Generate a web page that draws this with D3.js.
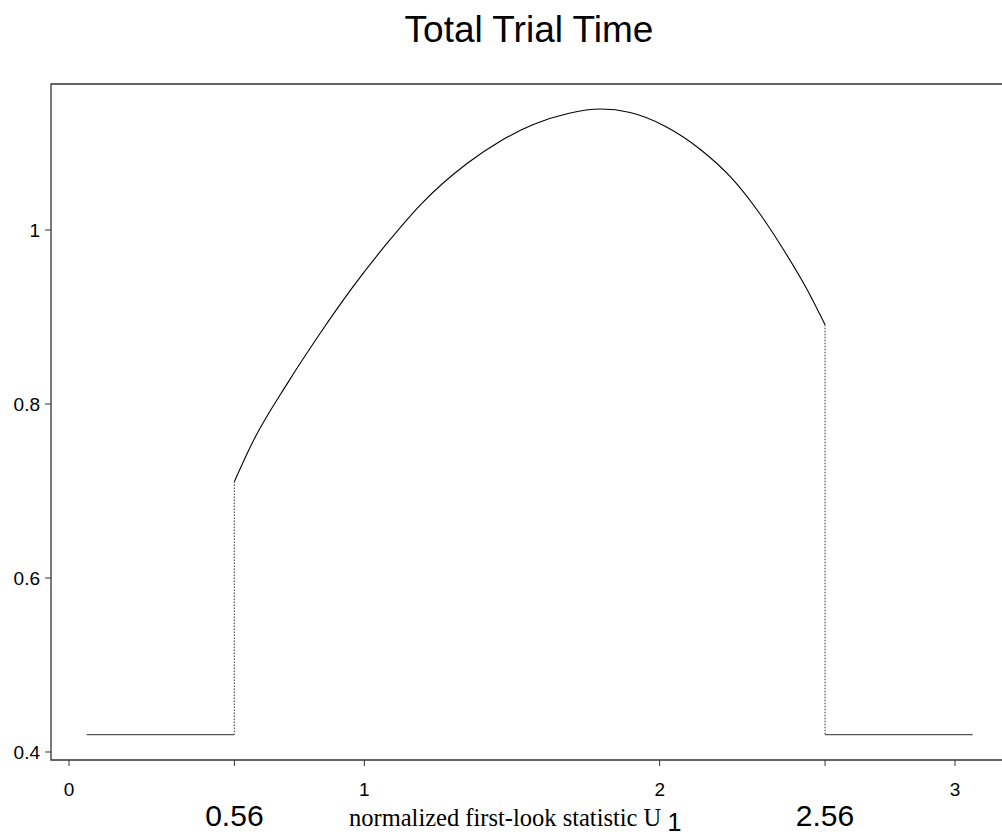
<!DOCTYPE html>
<html>
<head>
<meta charset="utf-8">
<script src="https://cdn.jsdelivr.net/npm/d3@7"></script>
<style>
   html, body { margin: 0; padding: 0; background: #fff; }
   svg text { font-family: "Liberation Sans", Arial, sans-serif; fill: #000; }
</style>
</head>
<body>
<div id="chart"></div>
<script>
"use strict";

// statistic U1 and total trial time
const curveU = [0.56, 0.62, 0.74, 0.85, 0.96, 1.08, 1.19, 1.35, 1.46, 1.57,
   1.69, 1.80, 1.90, 2.02, 2.14, 2.24, 2.33, 2.42, 2.50, 2.56];
const curveTime = [0.711, 0.755, 0.824, 0.881, 0.934, 0.986, 1.029, 1.077, 1.102, 1.121,
   1.134, 1.139, 1.135, 1.119, 1.092, 1.061, 1.023, 0.977, 0.931, 0.891];

// flat pieces outside the continuation region
const flatLeft = [[0.06, 0.42], [0.56, 0.42]];
const flatRight = [[2.56, 0.42], [3.06, 0.42]];

// boundaries of the region
const bounds = [0.56, 2.56];
const boundLabels = ["0.56", "2.56"];

const xTicks = [0, 1, 2, 3];
const yTicks = [0.4, 0.6, 0.8, 1];

const titleText = "Total Trial Time";
const xLabelText = "normalized first-look statistic U";
const xLabelSub = "1";

(function () {
   const width = 1002;
   const height = 836;
   const frameLeft = 51;
   const frameTop = 84;
   const frameBottom = 760;

   const x = d3.scaleLinear().domain([0, 3]).range([69, 955]);
   const y = d3.scaleLinear().domain([0.4, 1]).range([752, 230]);

   const svg = d3.select("#chart").append("svg")
      .attr("width", width)
      .attr("height", height);

   const curve = curveU.map((u, i) => [u, curveTime[i]]);

   // frame (right edge lies outside the picture)
   svg.append("path")
      .attr("d", `M${width},${frameTop}H${frameLeft}V${frameBottom}H${width}`)
      .attr("fill", "none")
      .attr("stroke", "#333")
      .attr("stroke-width", 1.3);

   // y axis ticks
   const yAxis = svg.append("g");
   yAxis.selectAll("line")
      .data(yTicks)
      .enter().append("line")
      .attr("x1", frameLeft - 6).attr("x2", frameLeft)
      .attr("y1", d => y(d)).attr("y2", d => y(d))
      .attr("stroke", "#333");
   yAxis.selectAll("text")
      .data(yTicks)
      .enter().append("text")
      .attr("x", frameLeft - 11)
      .attr("y", d => y(d))
      .attr("dy", "0.36em")
      .attr("text-anchor", "end")
      .style("font-size", "19px")
      .text(d => d);

   // x axis ticks
   const xAxis = svg.append("g");
   xAxis.selectAll("line")
      .data(xTicks.concat(bounds))
      .enter().append("line")
      .attr("x1", d => x(d)).attr("x2", d => x(d))
      .attr("y1", frameBottom).attr("y2", frameBottom + 6)
      .attr("stroke", "#333");
   xAxis.selectAll("text.tick")
      .data(xTicks)
      .enter().append("text")
      .attr("class", "tick")
      .attr("x", d => x(d))
      .attr("y", 796)
      .attr("text-anchor", "middle")
      .style("font-size", "19px")
      .text(d => d);
   xAxis.selectAll("text.bound")
      .data(bounds)
      .enter().append("text")
      .attr("class", "bound")
      .attr("x", d => x(d))
      .attr("y", 826)
      .attr("text-anchor", "middle")
      .style("font-size", "30px")
      .text((d, i) => boundLabels[i]);

   const line = d3.line()
      .x(d => x(d[0]))
      .y(d => y(d[1]));

   // dotted drops at the boundaries
   svg.selectAll("line.drop")
      .data([[bounds[0], curve[0][1]], [bounds[1], curve[curve.length - 1][1]]])
      .enter().append("line")
      .attr("class", "drop")
      .attr("x1", d => x(d[0])).attr("x2", d => x(d[0]))
      .attr("y1", d => y(d[1])).attr("y2", y(0.42))
      .attr("stroke", "#555")
      .attr("stroke-width", 1.2)
      .attr("stroke-dasharray", "1.5,1.5");

   svg.selectAll("path.flat")
      .data([flatLeft, flatRight])
      .enter().append("path")
      .attr("class", "flat")
      .attr("d", line)
      .attr("fill", "none")
      .attr("stroke", "#555")
      .attr("stroke-width", 1.2);

   svg.append("path")
      .datum(curve)
      .attr("d", line.curve(d3.curveMonotoneX))
      .attr("fill", "none")
      .attr("stroke", "#000")
      .attr("stroke-width", 1.1);

   // title
   svg.append("text")
      .attr("x", 529)
      .attr("y", 42)
      .attr("text-anchor", "middle")
      .style("font-size", "37px")
      .text(titleText);

   // axis label with subscript
   const xLabel = svg.append("text")
      .attr("x", 349)
      .attr("y", 826)
      .style("font-family", "'Liberation Serif', 'Times New Roman', serif")
      .style("font-size", "24.5px")
      .text(xLabelText + " ");
   xLabel.append("tspan")
      .attr("dy", 5)
      .style("font-family", "'Liberation Sans', Arial, sans-serif")
      .style("font-size", "25px")
      .text(xLabelSub);
})();
</script>
</body>
</html>
